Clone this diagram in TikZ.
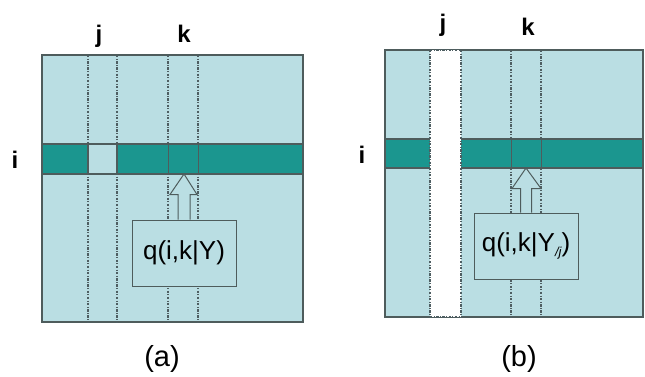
\documentclass[tikz,border=0pt]{standalone}
\usepackage{fontspec}
\setmainfont{Liberation Sans}
\usetikzlibrary{calc}
\definecolor{lightcell}{HTML}{BADEE3}
\definecolor{teal2}{HTML}{1B968F}
\definecolor{edgec}{HTML}{4E5C5C}
\definecolor{dotc}{HTML}{4E5E62}
\tikzset{
  panel/.style={fill=lightcell, draw=edgec, line width=1.1pt},
  band/.style={fill=teal2, draw=edgec, line width=1.1pt},
  guide/.style={draw=dotc, line width=1.1pt, dash pattern=on 2.4pt off 1.4pt on 1pt off 1.4pt},
  cellline/.style={draw=edgec, line width=1pt},
  qbox/.style={fill=lightcell, draw=edgec, line width=1pt, minimum width=104pt, minimum height=66pt, inner sep=0pt, font=\fontsize{26}{28}\selectfont},
  blockarrow/.style={fill=lightcell, draw=edgec, line width=1pt, line join=miter},
  idx/.style={font=\fontsize{24}{26}\selectfont\bfseries, anchor=base, inner sep=0pt},
  subcap/.style={font=\fontsize{29}{31}\selectfont, anchor=base, inner sep=0pt}
}
\begin{document}
\begin{tikzpicture}[x=1pt,y=-1pt]
\useasboundingbox (0,0) rectangle (645,376);
% ---------- panel (a)
\path[panel] (42,55) rectangle (303,322);
\foreach \x in {88,117,168,198} \draw[guide] (\x,55) -- (\x,322);
\path[band] (42,144) rectangle (303,174);
\path[fill=lightcell, draw=edgec, line width=1.1pt] (88,144) rectangle (117,174);
\draw[cellline] (168,144) -- (168,174) (198,144) -- (198,174);
\node[qbox] (qa) at (184,253) {q(i,k|Y)};
\coordinate (tipa) at (184,174);
\path[blockarrow] ($(qa.north)+(-6,0)$) -- ++(0,-25) -- ++(-8,0) -- (tipa) -- ($(qa.north)+(13,-25)$) -- ++(-7,0) -- ($(qa.north)+(6,0)$);
\node[idx] (ja) at (99,42) {j};
\node[idx] (ka) at (184,42) {k};
\node[idx] (ia) at (15,168) {i};
\node[subcap] (capa) at (162,366) {(a)};
% ---------- panel (b)
\path[panel] (385,50) rectangle (643,317);
\foreach \x in {511,541} \draw[guide] (\x,50) -- (\x,317);
\path[band] (385,139) rectangle (643,168);
\fill[white] (430,50) rectangle (461,317);
\draw[guide] (430,50) -- (430,317) (461,50) -- (461,317) (430,50) -- (461,50) (430,317) -- (461,317);
\draw[cellline] (511,139) -- (511,168) (541,139) -- (541,168);
\node[qbox] (qb) at (526,246) {q(i,k|Y\raisebox{-0.4ex}{\fontsize{13}{14}\selectfont\itshape /j})};
\coordinate (tipb) at (526,168);
\path[blockarrow] ($(qb.north)+(-5.5,0)$) -- ++(0,-24) -- ++(-8.5,0) -- (tipb) -- ($(qb.north)+(15,-24)$) -- ++(-9.5,0) -- ($(qb.north)+(5.5,0)$);
\node[idx] (jb) at (443,31) {j};
\node[idx] (kb) at (528,35) {k};
\node[idx] (ib) at (362,163) {i};
\node[subcap] (capb) at (519,366) {(b)};
\end{tikzpicture}
\end{document}
